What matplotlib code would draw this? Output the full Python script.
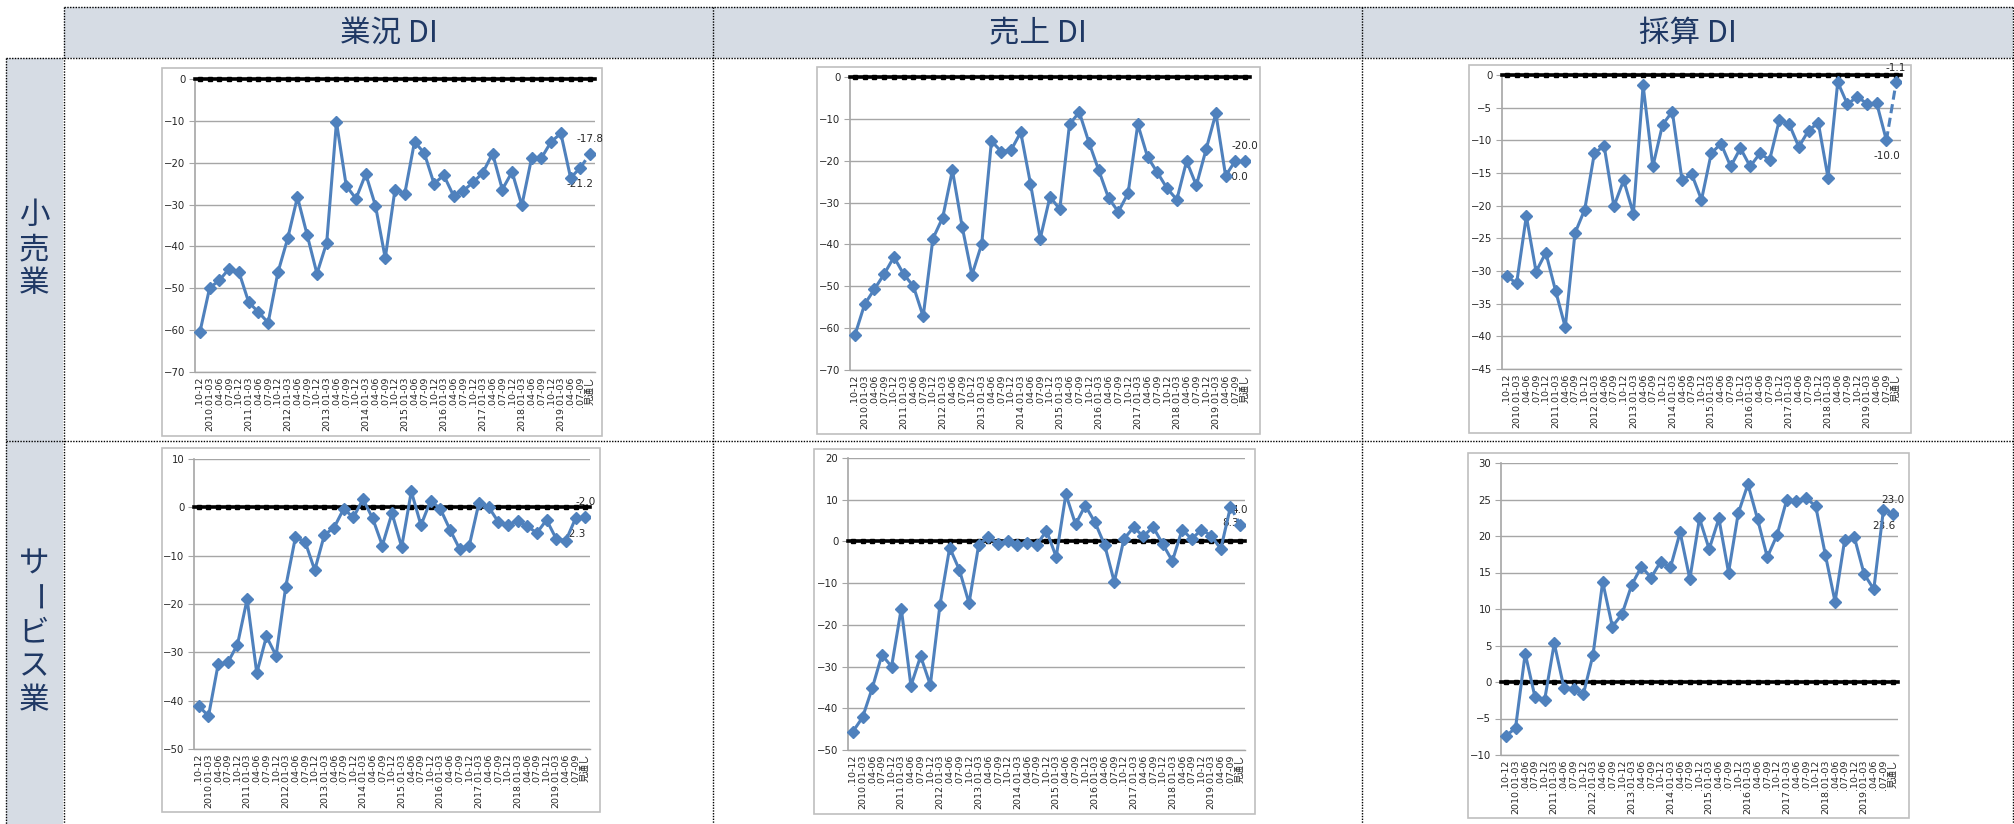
import matplotlib
matplotlib.use('Agg')
import matplotlib.pyplot as plt
from matplotlib.patches import Rectangle

plt.rcParams['font.family'] = ['DejaVu Sans', 'Noto Sans CJK JP']

categories = ['.10-12',
              '2010.01-03', '.04-06', '.07-09', '.10-12',
              '2011.01-03', '.04-06', '.07-09', '.10-12',
              '2012.01-03', '.04-06', '.07-09', '.10-12',
              '2013.01-03', '.04-06', '.07-09', '.10-12',
              '2014.01-03', '.04-06', '.07-09', '.10-12',
              '2015.01-03', '.04-06', '.07-09', '.10-12',
              '2016.01-03', '.04-06', '.07-09', '.10-12',
              '2017.01-03', '.04-06', '.07-09', '.10-12',
              '2018.01-03', '.04-06', '.07-09', '.10-12',
              '2019.01-03', '.04-06', '.07-09', '見通し']

col_titles = ['業況 DI', '売上 DI', '採算 DI']
row_titles = ['小売業', 'サービス業']

retail_gyokyo = [-60.5, -49.9, -48.1, -45.3, -46.1, -53.3, -55.7, -58.2, -46.2, -38.1,
                 -28.2, -37.3, -46.5, -39.1, -10.3, -25.5, -28.6, -22.7, -30.3, -42.8,
                 -26.4, -27.4, -15.0, -17.7, -25.0, -23.0, -27.9, -26.7, -24.7, -22.4,
                 -17.8, -26.4, -22.2, -30.2, -18.9, -18.9, -15.0, -13.0, -23.6, -21.2, -17.8]
retail_uriage = [-61.7, -54.3, -50.7, -47.1, -43.0, -47.1, -50.0, -57.2, -38.6, -33.6,
                 -22.3, -35.8, -47.3, -39.9, -15.3, -17.8, -17.5, -13.2, -25.5, -38.6,
                 -28.6, -31.6, -11.3, -8.4, -15.7, -22.3, -28.9, -32.2, -27.8, -11.3,
                 -19.1, -22.8, -26.6, -29.3, -20.1, -25.9, -17.3, -8.7, -23.6, -20.0, -20.0]
retail_saisan = [-30.8, -31.9, -21.6, -30.1, -27.2, -33.0, -38.6, -24.2, -20.6, -11.9,
                 -10.9, -20.1, -16.1, -21.2, -1.6, -14.0, -7.6, -5.6, -16.1, -15.2,
                 -19.1, -12.0, -10.5, -14.0, -11.2, -14.0, -12.0, -13.0, -6.9, -7.5,
                 -11.0, -8.5, -7.3, -15.7, -1.1, -4.5, -3.3, -4.4, -4.3, -10.0, -1.1]
service_gyokyo = [-41.1, -43.2, -32.5, -32.1, -28.4, -19.0, -34.3, -26.7, -30.7, -16.4,
                  -6.2, -7.1, -13.0, -5.7, -4.2, -0.3, -2.1, 1.7, -2.3, -7.9,
                  -1.2, -8.2, 3.3, -3.7, 1.4, -0.3, -4.6, -8.6, -7.9, 0.9,
                  0.1, -3.0, -3.6, -2.8, -3.9, -5.3, -2.6, -6.5, -6.9, -2.3, -2.0]
service_uriage = [-45.6, -42.2, -35.2, -27.2, -30.0, -16.1, -34.6, -27.5, -34.4, -15.2,
                  -1.5, -6.8, -14.8, -0.8, 1.1, -0.6, 0.2, -0.9, -0.4, -0.8,
                  2.6, -3.7, 11.3, 4.1, 8.6, 4.6, -0.8, -9.7, 0.6, 3.4,
                  1.2, 3.5, -0.6, -4.7, 2.8, 0.6, 2.8, 1.4, -1.8, 8.3, 4.0]
service_saisan = [-7.4, -6.3, 3.9, -2.0, -2.5, 5.3, -0.8, -0.9, -1.7, 3.7,
                  13.7, 7.6, 9.3, 13.3, 15.8, 14.3, 16.5, 15.7, 20.5, 14.1,
                  22.4, 18.2, 22.4, 15.0, 23.1, 27.1, 22.3, 17.1, 20.1, 24.9,
                  24.8, 25.2, 24.1, 17.4, 11.0, 19.5, 19.8, 14.8, 12.7, 23.6, 23.0]

# (ymin, ymax, step) per panel
y_ranges = [[(-70, 0, 10), (-70, 0, 10), (-45, 0, 5)],
            [(-50, 10, 10), (-50, 20, 10), (-10, 30, 5)]]
series = [[retail_gyokyo, retail_uriage, retail_saisan],
          [service_gyokyo, service_uriage, service_saisan]]

W, H = 2015, 824
LINE = '#4F81BD'
NAVY = '#1F3864'
HEAD_BG = '#D6DCE4'
GRID = '#A6A6A6'

# layout in pixels: plot area (x0, x1, y0, y1) and chart frame
plot_boxes = [[(195, 595, 79, 372), (850, 1250, 77, 370), (1502, 1901, 75, 369)],
              [(194, 590, 459, 749), (848, 1245, 458, 750), (1501, 1898, 463, 755)]]
frame_boxes = [[(162, 602, 68, 436), (817, 1260, 67, 434), (1469, 1911, 65, 433)],
               [(162, 600, 448, 812), (814, 1255, 449, 814), (1468, 1909, 453, 818)]]

fig = plt.figure(figsize=(W / 100, H / 100), dpi=100)
bg = fig.add_axes([0, 0, 1, 1])
bg.set_xlim(0, W)
bg.set_ylim(H, 0)
bg.axis('off')

# table cells
col_edges = [64, 713, 1362, 2013]
row_edges = [58, 441, 824]
for i in range(3):
    bg.add_patch(Rectangle((col_edges[i], 7), col_edges[i + 1] - col_edges[i], 51,
                           facecolor=HEAD_BG, edgecolor='none'))
    bg.text((col_edges[i] + col_edges[i + 1]) / 2, 33, col_titles[i], ha='center', va='center',
            fontsize=22, color=NAVY, family=['Noto Sans CJK JP'])
bg.add_patch(Rectangle((6, 58), 57, H - 58, facecolor=HEAD_BG, edgecolor='none'))

for r, title in enumerate(row_titles):
    yc = (row_edges[r] + row_edges[r + 1]) / 2
    n = len(title)
    for k, ch in enumerate(title):
        yy = yc + (k - (n - 1) / 2) * 34
        bg.text(34, yy, ch, ha='center', va='center', fontsize=22, color=NAVY,
                family=['Noto Sans CJK JP'], rotation=-90 if ch == 'ー' else 0)

dot = dict(color='black', lw=1.0, ls=(0, (1, 1)))
bg.plot([64, 2013], [7, 7], **dot)
for y in row_edges[:2]:
    bg.plot([6, 2013], [y, y], **dot)
bg.plot([6, 6], [58, H], **dot)
for x in col_edges:
    bg.plot([x, x], [7, H], **dot)

xs = list(range(len(categories)))

for r in range(2):
    for c in range(3):
        fx0, fx1, fy0, fy1 = frame_boxes[r][c]
        bg.add_patch(Rectangle((fx0, fy0), fx1 - fx0, fy1 - fy0, facecolor='white',
                               edgecolor='#BFBFBF', lw=1.2))
        px0, px1, py0, py1 = plot_boxes[r][c]
        ax = fig.add_axes([px0 / W, 1 - py1 / H, (px1 - px0) / W, (py1 - py0) / H])
        ax.patch.set_alpha(0)
        ymin, ymax, step = y_ranges[r][c]
        vals = series[r][c]

        ax.set_xlim(-0.5, len(categories) - 0.5)
        ax.set_ylim(ymin, ymax)
        ax.set_yticks(range(ymin, ymax + 1, step))
        ax.grid(axis='y', color=GRID, lw=1.0)
        ax.set_axisbelow(True)
        for s in ['top', 'right']:
            ax.spines[s].set_visible(False)
        ax.spines['left'].set_color(GRID)
        ax.spines['left'].set_linewidth(1.2)
        ax.spines['bottom'].set_color(GRID)
        ax.spines['bottom'].set_linewidth(1.0)
        ax.tick_params(axis='y', length=4, color=GRID, labelsize=7.3, labelcolor='#262626', pad=3)
        ax.tick_params(axis='x', length=0, labelsize=6.8, labelcolor='#262626', pad=3)
        ax.set_xticks(xs)
        ax.set_xticklabels(categories, rotation=90)

        # zero reference line
        ax.axhline(0, color='black', lw=2.6, zorder=4, clip_on=False)
        ax.plot(xs, [0] * len(xs), ls='none', marker='s', ms=2.6, color='black',
                zorder=4, clip_on=False)

        ax.plot(xs[:-1], vals[:-1], color=LINE, lw=2.2, marker='D', ms=6.5, zorder=5,
                clip_on=False)
        ax.plot(xs[-2:], vals[-2:], color=LINE, lw=2.2, ls=(0, (3, 1.5)), zorder=5)
        ax.plot(xs[-1], vals[-1], color=LINE, marker='D', ms=6.5, zorder=5)

        ax.annotate(f'{vals[-1]:.1f}', (xs[-1], vals[-1]), xytext=(0, 10.5),
                    textcoords='offset points', ha='center', va='center', fontsize=7.5,
                    color='#262626', zorder=3)
        ax.annotate(f'{vals[-2]:.1f}', (xs[-2], vals[-2]), xytext=(0, -11.5),
                    textcoords='offset points', ha='center', va='center', fontsize=7.5,
                    color='#262626', zorder=3)

fig.savefig('out.png', dpi=100)
